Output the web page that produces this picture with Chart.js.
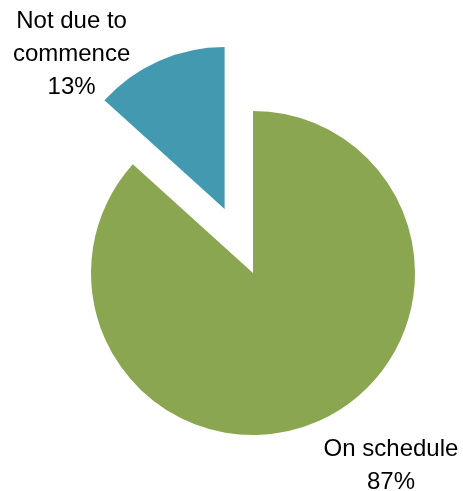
<!DOCTYPE html>
<html>
<head>
<meta charset="utf-8">
<script src="https://cdn.jsdelivr.net/npm/chart.js@4"></script>
<style>
  html, body { margin: 0; padding: 0; background: #fff; }
  #wrap { width: 463px; height: 491px; position: relative; }
</style>
</head>
<body>
<div id="wrap"><canvas id="statusChart"></canvas></div>
<script>
// --- data ---
const categories = ["On schedule", "Not due to commence"];
const shares = [86.7, 13.3];
const labelLines = [["On schedule"], ["Not due to", "commence"]];
const sliceColors = ["#8BA650", "#4399B0"];
const exploded = [0, 70];

// label anchor (offset from slice centre, px) - set by eye
const labelAnchor = [[138, 183], [-153, -181]];

const total = shares.reduce((a, b) => a + b, 0);

// pull slices out from the centre without growing the radius
const explodePlugin = {
      id: "explode",
      afterDatasetUpdate(chart, args) {
            const meta = chart.getDatasetMeta(args.index);
            meta.data.forEach((arc, i) => {
                  const d = exploded[i] || 0;
                  if (!d) return;
                  const mid = (arc.startAngle + arc.endAngle) / 2;
                  arc.x += Math.cos(mid) * d;
                  arc.y += Math.sin(mid) * d;
            });
      },
};

// --- data labels ---
const labelPlugin = {
      id: "sliceLabels",
      afterDraw(chart) {
            const ctx = chart.ctx;
            const meta = chart.getDatasetMeta(0);
            ctx.save();
            ctx.font = "24px 'Liberation Sans', Arial, sans-serif";
            ctx.fillStyle = "#000";
            ctx.textAlign = "center";
            ctx.textBaseline = "alphabetic";
            meta.data.forEach((arc, i) => {
                  const lines = labelLines[i].concat([Math.round(shares[i] / total * 100) + "%"]);
                  const x = arc.x + labelAnchor[i][0];
                  let y = arc.y + labelAnchor[i][1];
                  lines.forEach((t) => {
                        ctx.fillText(t, x, y);
                        y += 33;
                  });
            });
            ctx.restore();
      },
};

new Chart(document.getElementById("statusChart"), {
      type: "pie",
      data: {
            labels: categories,
            datasets: [
                  {
                        data: shares,
                        backgroundColor: sliceColors,
                        borderWidth: 0,
                  },
            ],
      },
      options: {
            responsive: true,
            maintainAspectRatio: false,
            animation: false,
            radius: 162,
            layout: { padding: { left: 43, top: 55, right: 0, bottom: 0 } },
            plugins: {
                  legend: { display: false },
                  tooltip: { enabled: false },
            },
      },
      plugins: [explodePlugin, labelPlugin],
});
</script>
</body>
</html>
